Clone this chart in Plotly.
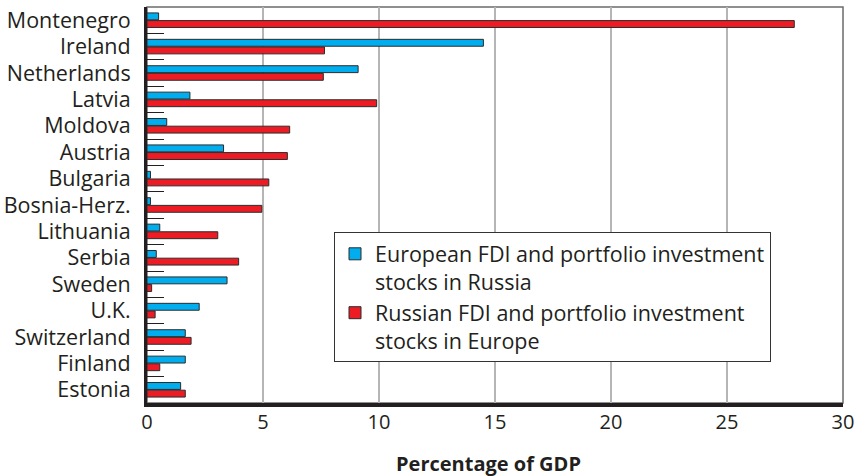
import plotly.graph_objects as go

countries = ["Montenegro", "Ireland", "Netherlands", "Latvia", "Moldova", "Austria",
             "Bulgaria", "Bosnia-Herz.", "Lithuania", "Serbia", "Sweden", "U.K.",
             "Switzerland", "Finland", "Estonia"]
european_in_russia = [0.5, 14.5, 9.1, 1.85, 0.85, 3.3, 0.15, 0.15, 0.55, 0.4, 3.45, 2.25, 1.65, 1.65, 1.45]
russian_in_europe = [27.9, 7.65, 7.6, 9.9, 6.15, 6.05, 5.25, 4.95, 3.05, 3.95, 0.2, 0.35, 1.9, 0.55, 1.65]
x_ticks = [0, 5, 10, 15, 20, 25, 30]

FONT = "Open Sans"
TXT = "#231f20"

fig = go.Figure()
fig.add_trace(go.Bar(
    y=countries, x=european_in_russia, orientation="h",
    name="European FDI and portfolio investment<br>stocks in Russia",
    marker=dict(color="#00aeef", line=dict(color="#2b2b2b", width=1)),
))
fig.add_trace(go.Bar(
    y=countries, x=russian_in_europe, orientation="h",
    name="Russian FDI and portfolio investment<br>stocks in Europe",
    marker=dict(color="#ed1c24", line=dict(color="#2b2b2b", width=1)),
))

fig.update_layout(
    width=856, height=476,
    margin=dict(l=147, r=13, t=7, b=73, autoexpand=False),
    paper_bgcolor="white", plot_bgcolor="white",
    barmode="group", bargap=0.42, bargroupgap=0.1,
    font=dict(family=FONT, size=20, color=TXT),
    showlegend=True,
    legend=dict(
        x=0.2687, y=0.431, xanchor="left", yanchor="top",
        bgcolor="white", bordercolor="#333333", borderwidth=1,
        font=dict(family=FONT, size=21.5, color=TXT),
        valign="top", tracegroupgap=0,
    ),
    xaxis=dict(
        range=[0, 30], tickvals=x_ticks, ticktext=[str(v) for v in x_ticks],
        showgrid=True, gridcolor="#b5b5b5", gridwidth=1.5,
        showline=True, linecolor=TXT, linewidth=4,
        ticks="", zeroline=False, automargin=False,
        tickfont=dict(family=FONT, size=20, color=TXT),
        ticklabelstandoff=-2,
    ),
    yaxis=dict(
        categoryorder="array", categoryarray=countries, autorange="reversed",
        showgrid=False, showline=True, linecolor=TXT, linewidth=3,
        ticks="inside", tickson="boundaries", ticklen=17, tickwidth=1, tickcolor=TXT,
        tickfont=dict(family=FONT, size=21.5, color=TXT),
        ticklabelstandoff=9, automargin=False,
    ),
    shapes=[dict(type="rect", xref="paper", yref="paper", x0=0, x1=1, y0=0, y1=1,
                 line=dict(color="#6b6b6b", width=1.5), layer="below")],
    annotations=[dict(text="<b>Percentage of GDP</b>", xref="paper", yref="paper",
                      x=0.49, y=-0.152, xanchor="center", yanchor="middle",
                      showarrow=False, font=dict(family=FONT, size=20, color=TXT))],
)

fig.write_html("out.html", config={"displayModeBar": False},
               post_script="document.body.style.margin='0px';")
